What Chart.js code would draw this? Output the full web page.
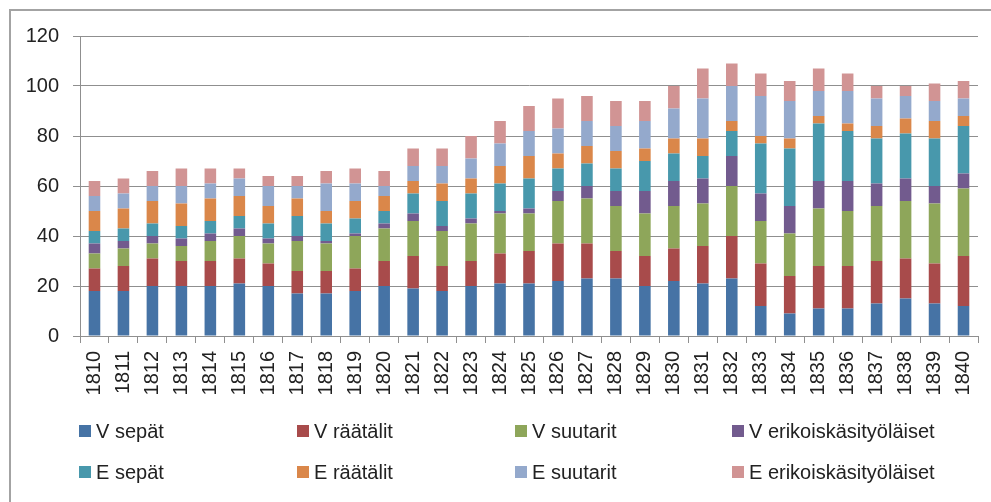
<!DOCTYPE html>
<html>
<head>
<meta charset="utf-8">
<script src="https://cdn.jsdelivr.net/npm/chart.js@4/dist/chart.umd.min.js"></script>
<style>
  html, body { margin: 0; padding: 0; background: #fff; overflow: hidden; }
  #wrap { position: relative; width: 991px; height: 502px; }
  #frame { position: absolute; left: 9px; top: 9px; width: 2000px; height: 2000px;
           border-left: 2px solid #a3a3a3; border-top: 2px solid #a3a3a3; box-sizing: border-box; }
  canvas { position: absolute; left: 0; top: 0; }
  .lg { position: absolute; display: flex; align-items: center; height: 24px;
        font-family: "Liberation Sans", Arial, sans-serif; font-size: 20px; color: #222; white-space: nowrap; }
  .lg i { display: inline-block; width: 12px; height: 12px; margin-right: 5px; }
</style>
</head>
<body>
<div id="wrap">
  <div id="frame"></div>
  <canvas id="c" width="991" height="502"></canvas>
  <div id="legend"></div>
</div>
<script>
const years = ['1810','1811','1812','1813','1814','1815','1816','1817','1818','1819','1820','1821','1822','1823','1824','1825','1826','1827','1828','1829','1830','1831','1832','1833','1834','1835','1836','1837','1838','1839','1840'];
const seriesNames = ['V sepät','V räätälit','V suutarit','V erikoiskäsityöläiset','E sepät','E räätälit','E suutarit','E erikoiskäsityöläiset'];
const vSepat    = [18,18,20,20,20,21,20,17,17,18,20,19,18,20,21,21,22,23,23,20,22,21,23,12,9,11,11,13,15,13,12];
const vRaatalit = [9,10,11,10,10,10,9,9,9,9,10,13,10,10,12,13,15,14,11,12,13,15,17,17,15,17,17,17,16,16,20];
const vSuutarit = [6,7,6,6,8,9,8,12,11,13,13,14,14,15,16,15,17,18,18,17,17,17,20,17,17,23,22,22,23,24,27];
const vErik     = [4,3,3,3,3,3,2,2,1,1,2,3,2,2,1,2,4,5,6,9,10,10,12,11,11,11,12,9,9,7,6];
const eSepat    = [5,5,5,5,5,5,6,8,7,6,5,8,10,10,11,12,9,9,9,12,11,9,10,20,23,23,20,18,18,19,19];
const eRaatalit = [8,8,9,9,9,8,7,7,5,7,6,5,7,6,7,9,6,7,7,5,6,7,4,3,4,3,3,5,6,7,4];
const eSuutarit = [6,6,6,7,6,7,8,5,11,7,4,6,7,8,9,10,10,10,10,11,12,16,14,16,15,10,13,11,9,8,7];
const eErik     = [6,6,6,7,6,4,4,4,5,6,6,7,7,9,9,10,12,10,10,8,9,12,9,9,8,9,7,5,4,7,7];
const yTicks = [0,20,40,60,80,100,120];

const seriesValues = [vSepat, vRaatalit, vSuutarit, vErik, eSepat, eRaatalit, eSuutarit, eErik];
const colors = ['#4673a5','#a84b4b','#8ea65a','#725b8e','#4898ac','#da874a','#94a9cc','#d19494'];

const FONT = '"Liberation Sans", Arial, sans-serif';
const GRID = '#8f8f8f';

const datasets = seriesNames.map((n, i) => ({
  label: n,
  data: seriesValues[i],
  backgroundColor: colors[i],
  borderWidth: 0,
  categoryPercentage: 1.0,
  barPercentage: 0.4
}));

new Chart(document.getElementById('c'), {
  type: 'bar',
  data: { labels: years, datasets },
  options: {
    responsive: false,
    animation: false,
    layout: { padding: { left: 0, top: 36, right: 13, bottom: 106 } },
    plugins: { legend: { display: false }, tooltip: { enabled: false } },
    scales: {
      x: {
        stacked: true,
        grid: { display: true, drawOnChartArea: false, drawTicks: true, tickLength: 7, color: GRID, lineWidth: 1, offset: true },
        border: { display: true, color: GRID, width: 1 },
        ticks: { autoSkip: false, minRotation: 90, maxRotation: 90, padding: 8, color: '#222', font: { family: FONT, size: 20 } },
        afterFit: s => { s.height = 60; s.paddingLeft = 0; s.paddingRight = 0; }
      },
      y: {
        stacked: true,
        min: 0, max: 120,
        afterBuildTicks: s => { s.ticks = yTicks.map(v => ({ value: v })); },
        grid: { color: GRID, lineWidth: 1, tickLength: 7, drawTicks: true },
        border: { display: true, color: GRID, width: 1 },
        ticks: { padding: 14, color: '#222', font: { family: FONT, size: 20 } },
        afterFit: s => { s.width = 80; }
      }
    }
  }
});

const lg = document.getElementById('legend');
const colX = [79, 297, 515, 732];
const rowY = [431, 472];
seriesNames.forEach((n, i) => {
  const d = document.createElement('div');
  d.className = 'lg';
  d.style.left = colX[i % 4] + 'px';
  d.style.top = (rowY[Math.floor(i / 4)] - 12) + 'px';
  const sq = document.createElement('i');
  sq.style.background = colors[i];
  d.appendChild(sq);
  d.appendChild(document.createTextNode(n));
  lg.appendChild(d);
});
</script>
</body>
</html>
